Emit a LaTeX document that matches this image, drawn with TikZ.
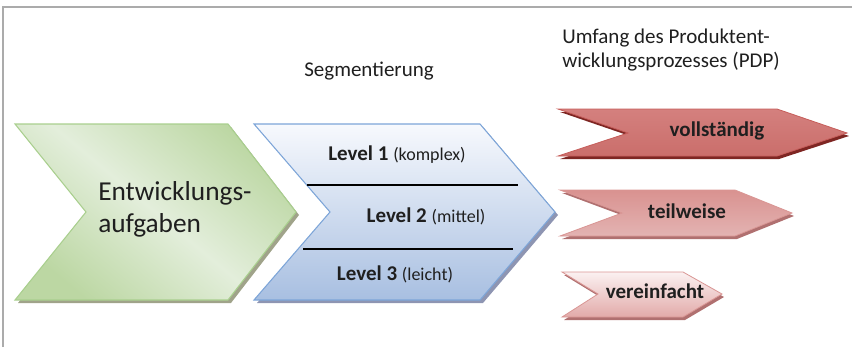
\documentclass[tikz,border=0pt]{standalone}
\usepackage{fontspec}
\setmainfont{Carlito}
\definecolor{frame}{HTML}{ABABAB}
\definecolor{ink}{HTML}{1F1F1F}
\definecolor{gLight}{HTML}{E3EEDB}
\definecolor{gDark}{HTML}{BCD7A3}
\definecolor{gEdge}{HTML}{A9CF8E}
\definecolor{gShadow}{HTML}{A0A38A}
\definecolor{bTop}{HTML}{F7F9FD}
\definecolor{bMid}{HTML}{D2DEF0}
\definecolor{bBot}{HTML}{A8BFE1}
\definecolor{bEdge}{HTML}{7DA5D8}
\definecolor{bShadow}{HTML}{8E95B2}
\definecolor{rTop}{HTML}{D4807E}
\definecolor{rMid}{HTML}{BC4845}
\definecolor{rBot}{HTML}{CA6E6B}
\definecolor{rEdge}{HTML}{C65D5A}
\definecolor{rShadow}{HTML}{7E2623}
\definecolor{pTop}{HTML}{D99290}
\definecolor{pMid}{HTML}{F2DCDB}
\definecolor{pBot}{HTML}{E3B3B2}
\definecolor{pEdge}{HTML}{D99694}
\definecolor{pShadow}{HTML}{B07070}
\definecolor{wTop}{HTML}{FBF1F1}
\definecolor{wBot}{HTML}{E2AAA9}
% diagonal band shading for the green chevron: darker corners, light middle
\pgfdeclareverticalshading{greenband}{100bp}{color(0bp)=(gDark); color(25bp)=(gDark); color(50bp)=(gLight); color(75bp)=(gDark); color(100bp)=(gDark)}
\tikzset{
  body/.style={font=\fontsize{15.75}{19}\selectfont, text=ink, inner sep=0pt},
  big/.style={font=\fontsize{20.5}{24}\selectfont, text=ink, inner sep=0pt},
  lvl/.style={font=\fontsize{15.75}{19}\selectfont, text=ink, inner sep=0pt, anchor=base},
  tag/.style={font=\fontsize{15.75}{19}\selectfont\bfseries, text=ink, inner sep=0pt, anchor=base},
  divider/.style={draw=black, line width=0.9pt},
}
\begin{document}
\begin{tikzpicture}[x=0.75pt, y=-0.75pt]
\useasboundingbox (0,0) rectangle (852,347);

% outer frame (top and left edges)
\draw[frame, line width=1.1pt] (3,347) -- (3,7) -- (852,7);

% --- green chevron: development tasks
\fill[gShadow, shift={(3,3)}] (15,124) -- (228,124) -- (296,212) -- (228,300) -- (15,300) -- (86,212) -- cycle;
\shade[shading=greenband, shading angle=-40, draw=gEdge, line width=0.8pt]
  (15,124) -- (228,124) -- (296,212) -- (228,300) -- (15,300) -- (86,212) -- cycle;
\node[big, anchor=west, align=left] (tasks) at (98,209) {Entwicklungs-\\aufgaben};

% --- blue chevron: segmentation levels
\fill[bShadow, shift={(3,3)}] (254,124) -- (480,124) -- (555,212) -- (480,300) -- (254,300) -- (330,212) -- cycle;
\shade[top color=bTop, middle color=bMid, bottom color=bBot, draw=bEdge, line width=0.8pt]
  (254,124) -- (480,124) -- (555,212) -- (480,300) -- (254,300) -- (330,212) -- cycle;
\coordinate (d1a) at (307,185);
\coordinate (d1b) at (518,185);
\coordinate (d2a) at (303,249);
\coordinate (d2b) at (513,249);
\draw[divider] (d1a) -- (d1b);
\draw[divider] (d2a) -- (d2b);
\node[lvl] (lv1) at (397,160) {\textbf{Level 1} {\fontsize{13.5}{16}\selectfont(komplex)}};
\node[lvl] (lv2) at (426,222) {\textbf{Level 2} {\fontsize{13.5}{16}\selectfont(mittel)}};
\node[lvl] (lv3) at (395,280) {\textbf{Level 3} {\fontsize{13.5}{16}\selectfont(leicht)}};

\node[body, anchor=base] (seg) at (369,76) {Segmentierung};

% --- headline of the right column
\node[body, anchor=base west] (pdp1) at (562,43) {Umfang des Produktent-};
\node[body, anchor=base west] (pdp2) at (562,67) {wicklungsprozesses (PDP)};

% --- red arrows: scope of the PDP
\fill[rShadow, shift={(2,3)}] (558,109) -- (777,109) -- (847,133) -- (777,156) -- (558,156) -- (628,133) -- cycle;
\shade[top color=rTop, middle color=rMid, bottom color=rBot, draw=rEdge, line width=0.6pt]
  (558,109) -- (777,109) -- (847,133) -- (777,156) -- (558,156) -- (628,133) -- cycle;
\node[tag] (full) at (717,136) {vollständig};

\fill[pShadow, shift={(2,3)}] (560,190) -- (735,190) -- (792,213) -- (735,236) -- (560,236) -- (622,213) -- cycle;
\shade[top color=pTop, middle color=pMid, bottom color=pBot, draw=pEdge, line width=0.6pt]
  (560,190) -- (735,190) -- (792,213) -- (735,236) -- (560,236) -- (622,213) -- cycle;
\node[tag] (part) at (687,218) {teilweise};

\fill[pShadow, shift={(2,3)}] (562,272) -- (683,272) -- (722,294) -- (683,317) -- (562,317) -- (598,294) -- cycle;
\shade[top color=wTop, bottom color=wBot, draw=pEdge, line width=0.6pt]
  (562,272) -- (683,272) -- (722,294) -- (683,317) -- (562,317) -- (598,294) -- cycle;
\node[tag] (simple) at (655,298) {vereinfacht};
\end{tikzpicture}
\end{document}
